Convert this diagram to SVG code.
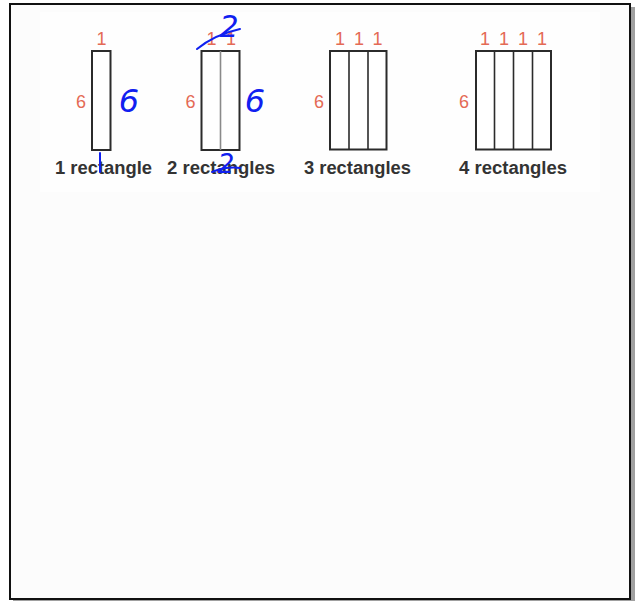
<svg xmlns="http://www.w3.org/2000/svg" width="637" height="601" viewBox="0 0 637 601">
<defs>
<style>
.box{fill:#ffffff;stroke:#2b2b2b;stroke-width:2}
.div{stroke:#2b2b2b;stroke-width:1.6}
.red{font-family:"Liberation Sans",Arial,sans-serif;font-size:18px;fill:#e46a55;text-anchor:middle}
.lab{font-family:"Liberation Sans",Arial,sans-serif;font-size:18px;font-weight:bold;fill:#333333;text-anchor:middle}
.ink{font-family:"DejaVu Sans",sans-serif;font-style:italic;font-weight:normal;fill:#1020f0;text-anchor:middle}
.inkline{fill:none;stroke:#1020f0;stroke-width:2;stroke-linecap:round}
</style>
</defs>
<rect x="0" y="0" width="637" height="601" fill="#ffffff"/>
<rect x="13" y="7" width="622" height="594" fill="#a0a0a0"/>
<rect x="10" y="4" width="620" height="595" fill="#fcfcfc" stroke="#111111" stroke-width="2"/>
<rect x="40" y="12" width="560" height="180" fill="#fefefe"/>

<g id="rect1">
<rect class="box" x="92" y="51" width="18.5" height="99"/>
<text class="red" x="101.5" y="45">1</text>
<text class="red" x="81" y="108">6</text>
<text class="lab" x="103.5" y="174" textLength="97" lengthAdjust="spacingAndGlyphs">1 rectangle</text>
</g>

<g id="rect2">
<rect class="box" x="201.5" y="51" width="38" height="99"/>
<line x1="220.5" y1="51" x2="220.5" y2="150" style="stroke:#8a8a8a;stroke-width:1.6"/>
<text class="red" x="211.5" y="45">1</text>
<text class="red" x="231" y="45">1</text>
<text class="red" x="190.5" y="108">6</text>
<text class="lab" x="221" y="174" textLength="108" lengthAdjust="spacingAndGlyphs">2 rectangles</text>
</g>

<g id="rect3">
<rect class="box" x="330" y="51" width="56.5" height="98.5"/>
<line class="div" x1="349" y1="51" x2="349" y2="149.5"/>
<line class="div" x1="368" y1="51" x2="368" y2="149.5"/>
<text class="red" x="340" y="45">1</text>
<text class="red" x="359" y="45">1</text>
<text class="red" x="377.5" y="45">1</text>
<text class="red" x="319" y="108">6</text>
<text class="lab" x="357.5" y="174" textLength="107" lengthAdjust="spacingAndGlyphs">3 rectangles</text>
</g>

<g id="rect4">
<rect class="box" x="476" y="51" width="75" height="98.5"/>
<line class="div" x1="494.5" y1="51" x2="494.5" y2="149.5"/>
<line class="div" x1="513.5" y1="51" x2="513.5" y2="149.5"/>
<line class="div" x1="532.5" y1="51" x2="532.5" y2="149.5"/>
<text class="red" x="485" y="45">1</text>
<text class="red" x="504" y="45">1</text>
<text class="red" x="523" y="45">1</text>
<text class="red" x="542" y="45">1</text>
<text class="red" x="464" y="108">6</text>
<text class="lab" x="513" y="174" textLength="108" lengthAdjust="spacingAndGlyphs">4 rectangles</text>
</g>

<g id="annotations">
<text class="ink" x="129" y="112" font-size="32">6</text>
<text class="ink" x="255" y="112" font-size="32">6</text>
<text class="ink" x="229" y="37" font-size="30">2</text>
<text class="ink" x="226" y="173" font-size="26">2</text>
</g>
<g id="connectors">
<path class="inkline" d="M197 49 C208 40 222 33 240 29"/>
<path class="inkline" d="M100 153 L100 172"/>
<path class="inkline" d="M212 172 C222 168 232 167 240 168"/>
</g>
</svg>
